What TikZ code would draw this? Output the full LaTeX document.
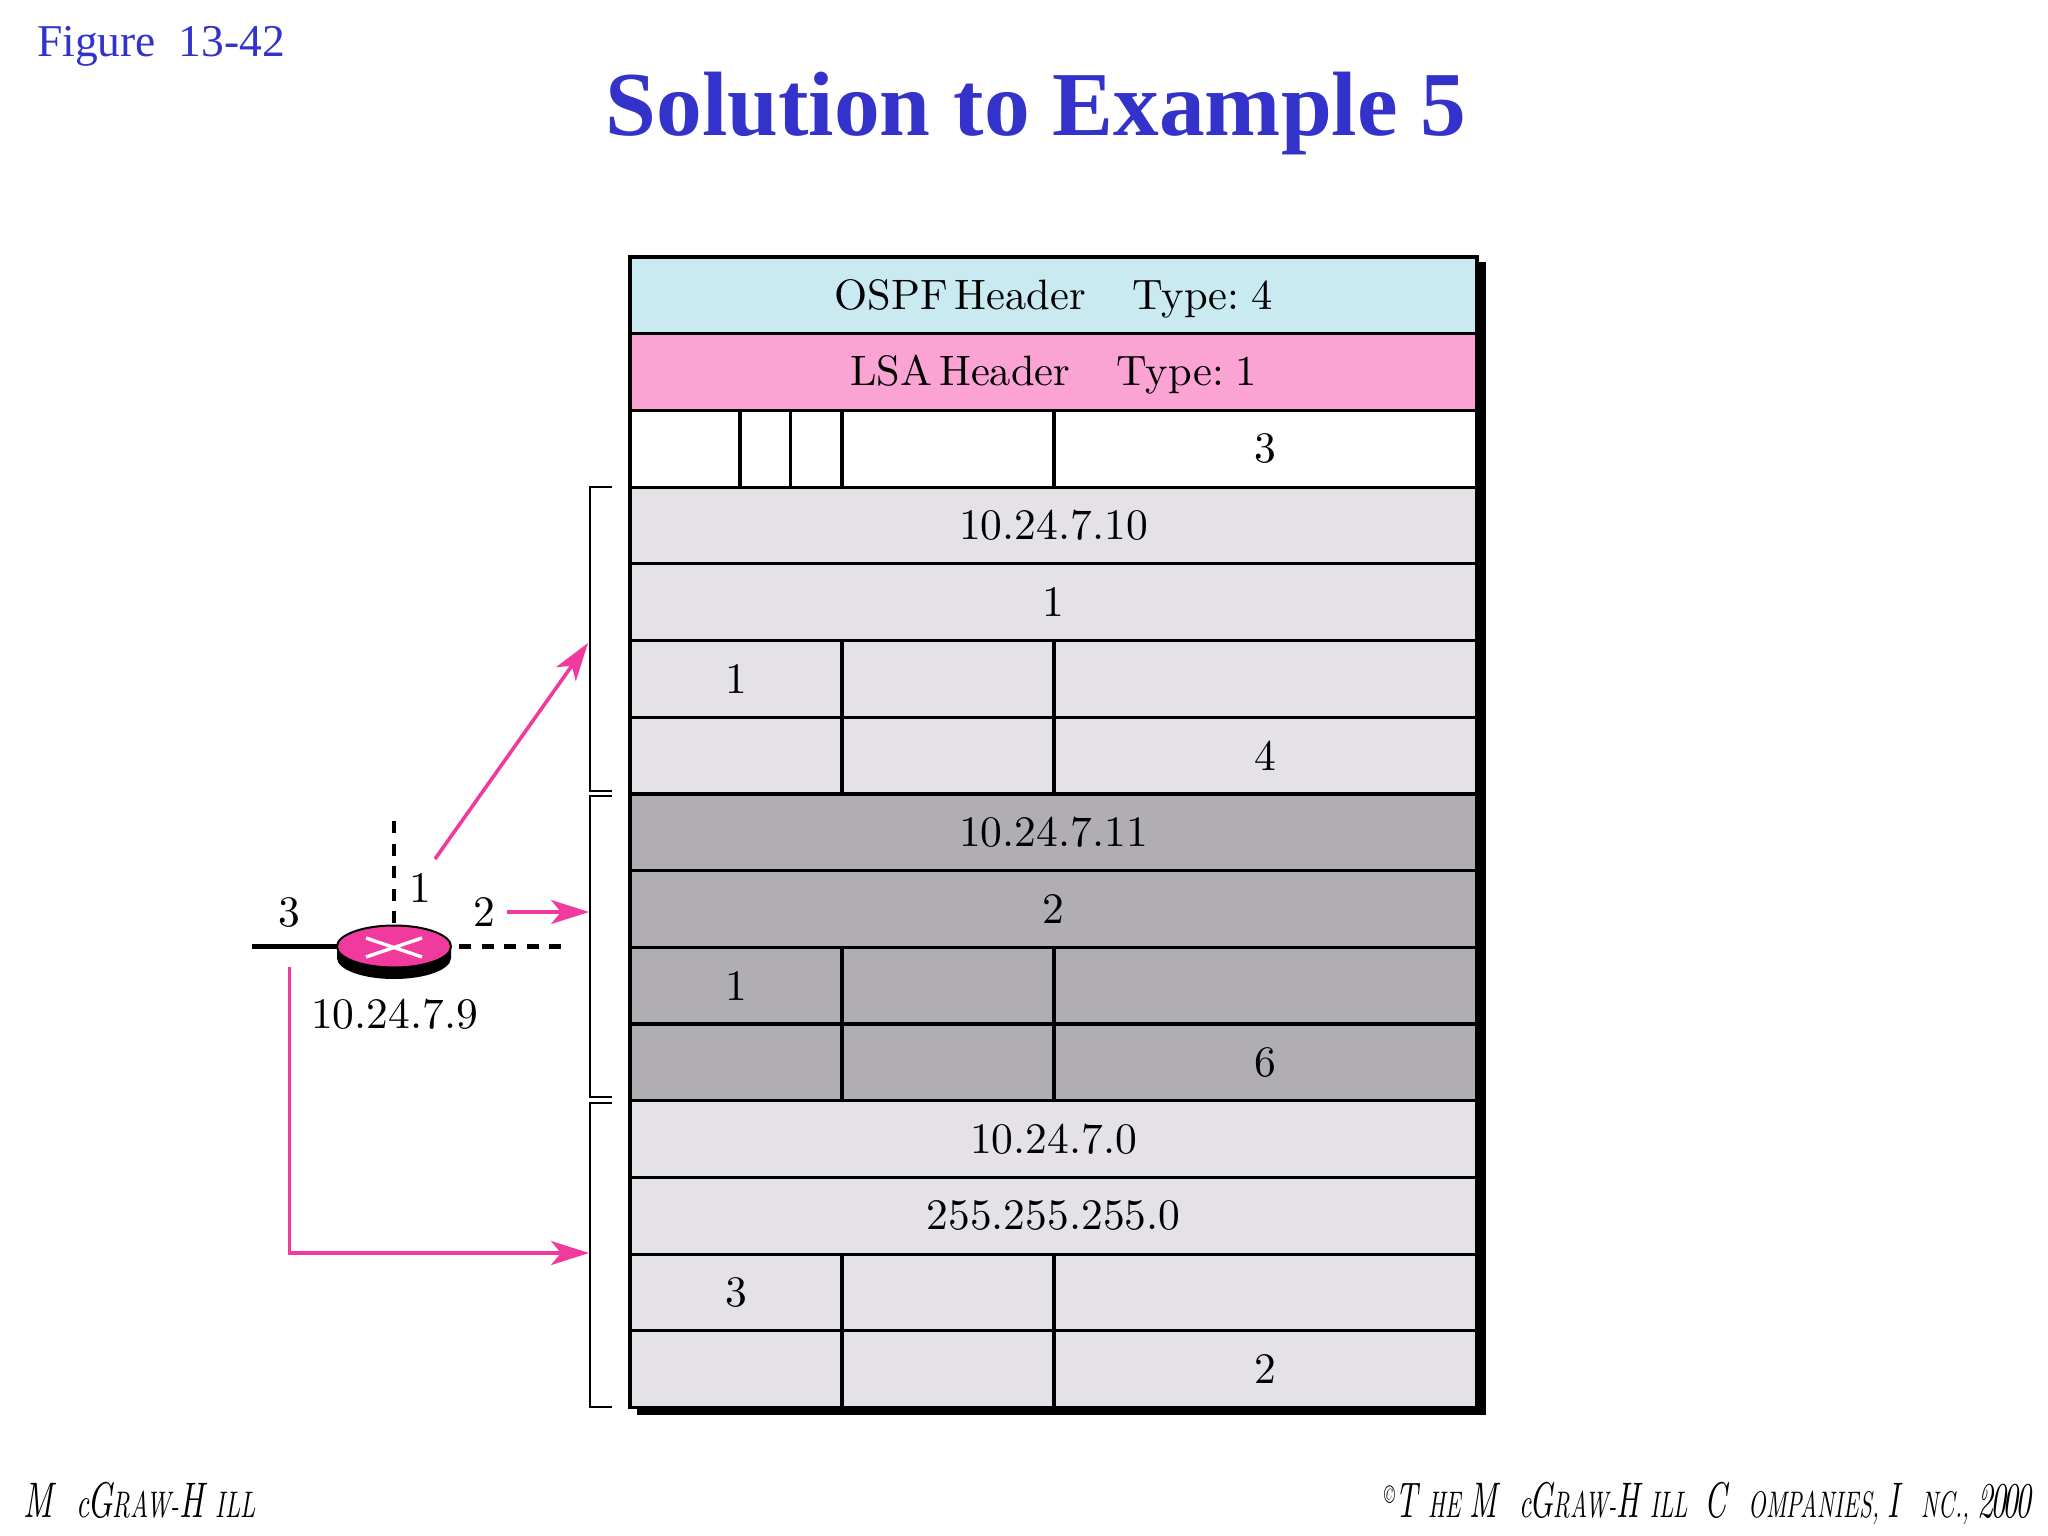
\documentclass[tikz,border=0pt]{standalone}
\usepackage{fontspec}
\usetikzlibrary{arrows.meta,shapes.geometric}
\newfontfamily\libserif{Liberation Serif}
\newfontfamily\lmten{lmroman10-regular}[Extension=.otf]
\newfontfamily\lmit{lmroman10-italic}[Extension=.otf]
\definecolor{blueT}{RGB}{51,51,204}
\definecolor{cyanC}{RGB}{200,234,240}
\definecolor{pinkC}{RGB}{251,164,212}
\definecolor{lightC}{RGB}{228,226,230}
\definecolor{darkC}{RGB}{176,174,178}
\definecolor{pinkL}{RGB}{240,58,158}
\newcommand{\bodyfont}{\lmten\fontsize{43.5}{48}\selectfont}
\newcommand{\headfont}{\lmten\fontsize{42.5}{48}\selectfont\spaceskip=7pt}
\tikzset{
  cell/.style={draw=black,line width=3.2pt,outer sep=0pt,anchor=north west,inner sep=0pt,minimum height=76.7pt,font=\bodyfont,text=black},
  full/.style={cell,minimum width=847pt},
  headrow/.style={full,font=\headfont,text height=27.4pt,text depth=0pt},
  ca/.style={cell,minimum width=212pt},
  cb/.style={cell,minimum width=212pt},
  cc/.style={cell,minimum width=423pt},
  lbl/.style={font=\bodyfont,inner sep=0pt,text=black},
  brk/.style={draw=black,line width=2pt},
  plink/.style={draw=pinkL,line width=3.6pt},
  parrow/.style={plink,-{Stealth[length=38pt,width=24pt,inset=10pt]}},
  wire/.style={draw=black,line width=4.4pt},
  dwire/.style={wire,dash pattern=on 12pt off 10.5pt},
  foot/.style={inner sep=0pt,anchor=base west,xscale=0.62,transform shape},
  footwide/.style={inner sep=0pt,anchor=base west,xscale=0.66,transform shape},
}
\newcommand{\bg}{\lmit\fontsize{50}{50}\selectfont}
\newcommand{\sm}{\lmit\fontsize{37}{50}\selectfont}
\newcommand{\md}{\lmit\fontsize{43}{50}\selectfont}
\begin{document}
\begin{tikzpicture}[x=1pt,y=-1pt]
\useasboundingbox (0,0) rectangle (2048,1536);
\fill[white] (0,0) rectangle (2048,1536);
% titles
\node[inner sep=0pt,text=blueT,font=\libserif\fontsize{45.5}{50}\selectfont,anchor=west] (fig) at (37,46.5) {Figure\ \ 13-42};
\node[inner sep=0pt,text=blueT,font=\libserif\bfseries\fontsize{91.4}{100}\selectfont] (title) at (1036,114) {Solution to Example 5};
% shadow
\fill[black] (637,262) rectangle (1486,1415);
% rows
\node[headrow,fill=cyanC] (r1) at (630,257) {OSPF Header\hspace{46pt}Type: 4};
\node[headrow,fill=pinkC] (r2) at (630,333.7) {LSA Header\hspace{46pt}Type: 1};
% row 3
\node[cell,fill=white,minimum width=110pt] (r3a) at (630,410.4) {};
\node[cell,fill=white,minimum width=50.5pt] (r3b) at (740,410.4) {};
\node[cell,fill=white,minimum width=51.5pt] (r3c) at (790.5,410.4) {};
\node[cell,fill=white,minimum width=212pt] (r3d) at (842,410.4) {};
\node[cell,fill=white,minimum width=423pt] (r3e) at (1054,410.4) {3};
% link 1
\node[full,fill=lightC] (a1) at (630,487.1) {10.24.7.10};
\node[full,fill=lightC] (a2) at (630,563.8) {1};
\node[ca,fill=lightC] (a3a) at (630,640.5) {1};
\node[cb,fill=lightC] (a3b) at (842,640.5) {};
\node[cc,fill=lightC] (a3c) at (1054,640.5) {};
\node[ca,fill=lightC] (a4a) at (630,717.2) {};
\node[cb,fill=lightC] (a4b) at (842,717.2) {};
\node[cc,fill=lightC] (a4c) at (1054,717.2) {4};
% link 2
\node[full,fill=darkC] (b1) at (630,793.9) {10.24.7.11};
\node[full,fill=darkC] (b2) at (630,870.6) {2};
\node[ca,fill=darkC] (b3a) at (630,947.3) {1};
\node[cb,fill=darkC] (b3b) at (842,947.3) {};
\node[cc,fill=darkC] (b3c) at (1054,947.3) {};
\node[ca,fill=darkC] (b4a) at (630,1024) {};
\node[cb,fill=darkC] (b4b) at (842,1024) {};
\node[cc,fill=darkC] (b4c) at (1054,1024) {6};
% link 3
\node[full,fill=lightC] (c1) at (630,1100.7) {10.24.7.0};
\node[full,fill=lightC] (c2) at (630,1177.4) {255.255.255.0};
\node[ca,fill=lightC] (c3a) at (630,1254.1) {3};
\node[cb,fill=lightC] (c3b) at (842,1254.1) {};
\node[cc,fill=lightC] (c3c) at (1054,1254.1) {};
\node[ca,fill=lightC] (c4a) at (630,1330.8) {};
\node[cb,fill=lightC] (c4b) at (842,1330.8) {};
\node[cc,fill=lightC] (c4c) at (1054,1330.8) {2};
% brackets
\draw[brk] (612,487) -- (590,487) -- (590,791) -- (612,791);
\draw[brk] (612,796) -- (590,796) -- (590,1097) -- (612,1097);
\draw[brk] (612,1103) -- (590,1103) -- (590,1407) -- (612,1407);
% router
\coordinate (wl) at (252,946.5);
\coordinate (wr) at (562,946.5);
\coordinate (wt) at (394,821);
\fill[black] (337,947) -- (337,958) arc[start angle=180,end angle=360,x radius=57pt,y radius=21pt] -- (451,947) -- cycle;
\node[ellipse,draw=black,line width=2pt,outer sep=0pt,fill=pinkL,minimum width=114pt,minimum height=42pt,inner sep=0pt] (router) at (394,946.5) {};
\draw[white,line width=3.4pt] (366,938) -- (422,957) (366,957) -- (422,938);
\draw[wire] (wl) -- (router.west);
\draw[dwire] (459,946.5) -- (wr);
\draw[dwire] (wt) -- (router.north);
\node[lbl] (ip) at (394.5,1014) {10.24.7.9};
\node[lbl] (n1) at (420,888.5) {1};
\node[lbl] (n2) at (484,912) {2};
\node[lbl] (n3) at (289.5,912) {3};
% pink
\coordinate (p1s) at (435,859);
\coordinate (p1e) at (588,643);
\coordinate (p2s) at (507,912);
\coordinate (p2e) at (589,912);
\coordinate (p3s) at (289.5,967);
\coordinate (p3m) at (289.5,1253);
\coordinate (p3e) at (589,1253);
\draw[parrow] (p1s) -- (p1e);
\draw[parrow] (p2s) -- (p2e);
\draw[parrow] (p3s) -- (p3m) -- (p3e);
% footer
\node[footwide] (f1) at (23,1517) {\bg M\ \ \md c\kern-3pt\bg G\sm RAW-\bg H\ \sm ILL};
\node[foot] (f2) at (1384,1517) {\raisebox{14pt}{\lmit\fontsize{26}{26}\selectfont\textcopyright}\bg T\ \sm HE\ \bg M\ \ \md c\kern-3pt\bg G\sm RAW-\bg H\ \sm ILL\ \ \bg C\ \ \sm OMPANIES,\ \bg I\ \ \sm NC.,\ \bg 2\kern-5pt0\kern-5pt0\kern-5pt0};
\end{tikzpicture}
\end{document}
